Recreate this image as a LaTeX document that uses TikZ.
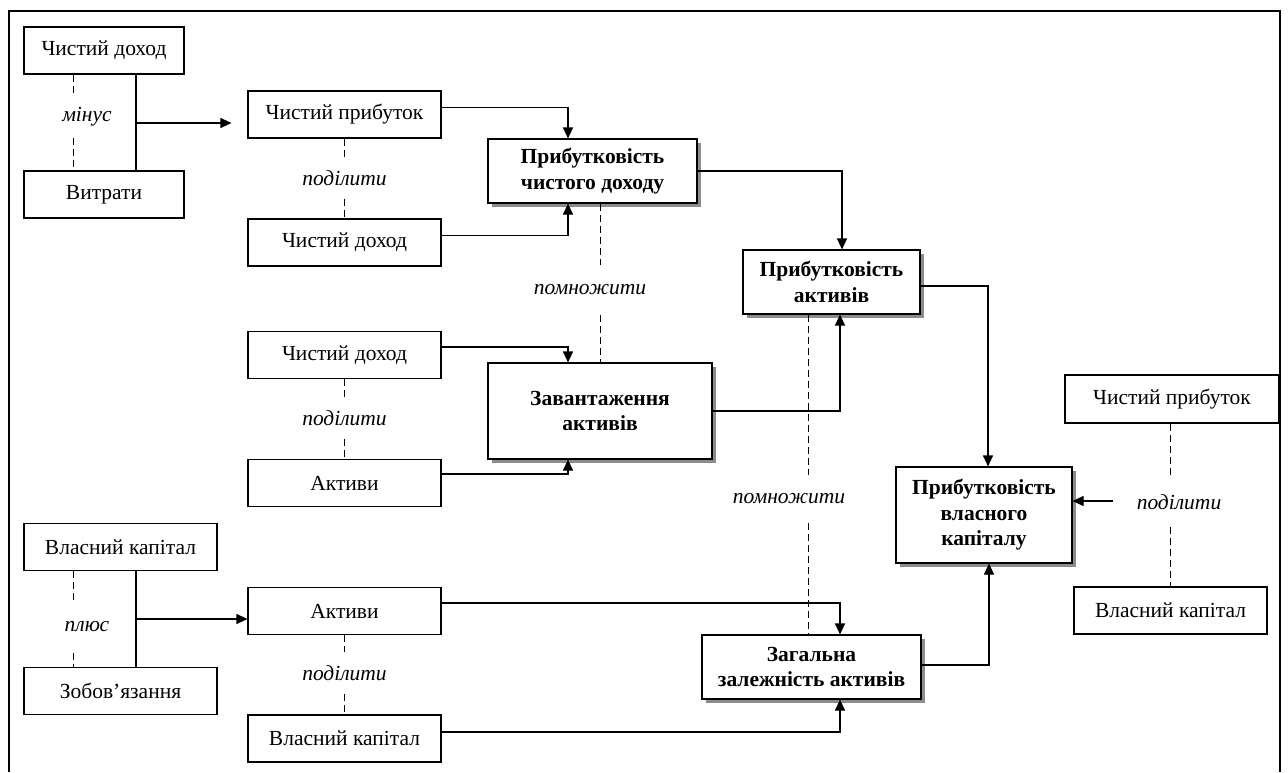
\documentclass[tikz,border=0pt]{standalone}
\usepackage{fontspec}
\setmainfont{Liberation Serif}
\usetikzlibrary{arrows.meta, calc, shadows}

\begin{document}
\begin{tikzpicture}[x=1pt, y=-1pt,
    box/.style={draw, line width=1.1pt, fill=white, minimum width=193pt,
                minimum height=47pt, inner sep=2pt, align=center,
                font=\fontsize{21.5}{25.5}\selectfont},
    res/.style={box, font=\fontsize{21.5}{25.5}\selectfont\bfseries,
                drop shadow={shadow xshift=4pt, shadow yshift=-4pt,
                             fill=black!45, opacity=1}},
    op/.style={font=\fontsize{21.5}{25.5}\selectfont\itshape, inner sep=0pt,
               minimum height=42pt},
    arr/.style={-{Triangle[length=11pt, width=10pt]}, line width=1.1pt},
    link/.style={line width=1.1pt},
    dotline/.style={dash pattern=on 7pt off 4pt, line width=0.9pt}
  ]
    \useasboundingbox (0,0) rectangle (1288,772);
    %% Frame
    \draw[line width=1.3pt] (9,772) -- (9,11) -- (1280,11) -- (1280,772);

    %% Net profit = revenue minus expenses
    \node[box, minimum width=160pt] (cd1) at (104,50.5) {Чистий доход};
    \node[box, minimum width=160pt] (vytr) at (104,194.5) {Витрати};
    \node[op] (minus) at (87,117) {мінус};
    \coordinate (m1) at (73,0);
    \coordinate (j1) at (136,123);

    %% Net profit / revenue
    \node[box] (cp1) at (344.5,114.5) {Чистий прибуток};
    \node[box] (cd2) at (344.5,242.5) {Чистий доход};
    \node[op, minimum height=41pt] (div1) at (344.5,178) {поділити};

    %% Revenue / assets
    \node[box] (cd3) at (344.5,355) {Чистий доход};
    \node[box] (akt1) at (344.5,483) {Активи};
    \node[op] (div2) at (344.5,418) {поділити};

    %% Assets = equity plus liabilities
    \node[box] (vk1) at (120.5,547) {Власний капітал};
    \node[box] (zob) at (120.5,691) {Зобов’язання};
    \node[op, minimum height=52pt] (plus) at (87,627) {плюс};
    \coordinate (j2) at (136,619);

    %% Assets / equity
    \node[box] (akt2) at (344.5,611) {Активи};
    \node[box] (vk2) at (344.5,738.5) {Власний капітал};
    \node[op] (div3) at (344.5,673) {поділити};

    %% Ratios
    \node[res, minimum width=209pt, minimum height=64pt] (pcd) at (592.5,171)
      {Прибутковість\\чистого доходу};
    \node[res, minimum width=224pt, minimum height=96pt] (za) at (600,411)
      {Завантаження\\активів};
    \node[op, minimum height=50pt] (mul1) at (590,290) {помножити};
    \node[res, minimum width=177pt, minimum height=64pt] (pa) at (831.5,282)
      {Прибутковість\\активів};
    \node[res, minimum width=219pt, minimum height=64pt] (zza) at (811.5,667)
      {Загальна\\залежність активів};
    \node[op, minimum height=48pt] (mul2) at (789,499) {помножити};
    \coordinate (m2) at (808,0);
    \node[res, minimum width=176pt, minimum height=96pt] (pvk) at (984,515)
      {Прибутковість\\власного\\капіталу};

    %% Return on equity = net profit / equity
    \node[box, minimum width=214pt, minimum height=48pt] (cp2) at (1172,399)
      {Чистий прибуток};
    \node[box] (vk3) at (1170.5,610.5) {Власний капітал};
    \node[op, minimum height=50pt] (div4) at (1179,502) {поділити};
    \coordinate (dv) at (1113,501);

    %% Dashed operation lines
    \draw[dotline] (cd1.south -| m1) -- (minus.north -| m1);
    \draw[dotline] (minus.south -| m1) -- (vytr.north -| m1);
    \draw[dotline] (cp1.south) -- (cp1.south |- div1.north);
    \draw[dotline] (div1.south -| cd2.north) -- (cd2.north);
    \draw[dotline] (cd3.south) -- (cd3.south |- div2.north);
    \draw[dotline] (div2.south -| akt1.north) -- (akt1.north);
    \draw[dotline] (vk1.south -| m1) -- (plus.north -| m1);
    \draw[dotline] (plus.south -| m1) -- (zob.north -| m1);
    \draw[dotline] (akt2.south) -- (akt2.south |- div3.north);
    \draw[dotline] (div3.south -| vk2.north) -- (vk2.north);
    \draw[dotline] (pcd.south -| za.north) -- (za.north |- mul1.north);
    \draw[dotline] (mul1.south -| za.north) -- (za.north);
    \draw[dotline] (pa.south -| m2) -- (mul2.north -| m2);
    \draw[dotline] (mul2.south -| m2) -- (zza.north -| m2);
    \draw[dotline] (cp2.south -| vk3.north) -- (vk3.north |- div4.north);
    \draw[dotline] (div4.south -| vk3.north) -- (vk3.north);

    %% Joints and arrows
    \draw[link] (cd1.south -| j1) -- (vytr.north -| j1);
    \draw[arr, shorten >=16pt] (j1) -- (j1 -| cp1.west);
    \draw[link] (vk1.south -| j2) -- (zob.north -| j2);
    \draw[arr] (j2) -- (j2 -| akt2.west);

    \draw[arr] ([yshift=7pt]cp1.east) -| ([xshift=-24.5pt]pcd.north);
    \draw[arr] ([yshift=7pt]cd2.east) -| ([xshift=-24.5pt]pcd.south);
    \draw[arr] ([yshift=8pt]cd3.east) -| ([xshift=-32pt]za.north);
    \draw[arr] ([yshift=9pt]akt1.east) -| ([xshift=-32pt]za.south);
    \draw[arr] ([yshift=8pt]akt2.east) -| ([xshift=28.5pt]zza.north);
    \draw[arr] ([yshift=6.5pt]vk2.east) -| ([xshift=28.5pt]zza.south);

    \draw[arr] (pcd.east) -| ([xshift=10.5pt]pa.north);
    \draw[arr] (za.east) -| ([xshift=8.5pt]pa.south);
    \draw[arr] ([yshift=-4pt]pa.east) -| ([xshift=4pt]pvk.north);
    \draw[arr] ([yshift=2pt]zza.east) -| ([xshift=5pt]pvk.south);
    \draw[arr] (dv) -- (dv -| pvk.east);
  \end{tikzpicture}
\end{document}
